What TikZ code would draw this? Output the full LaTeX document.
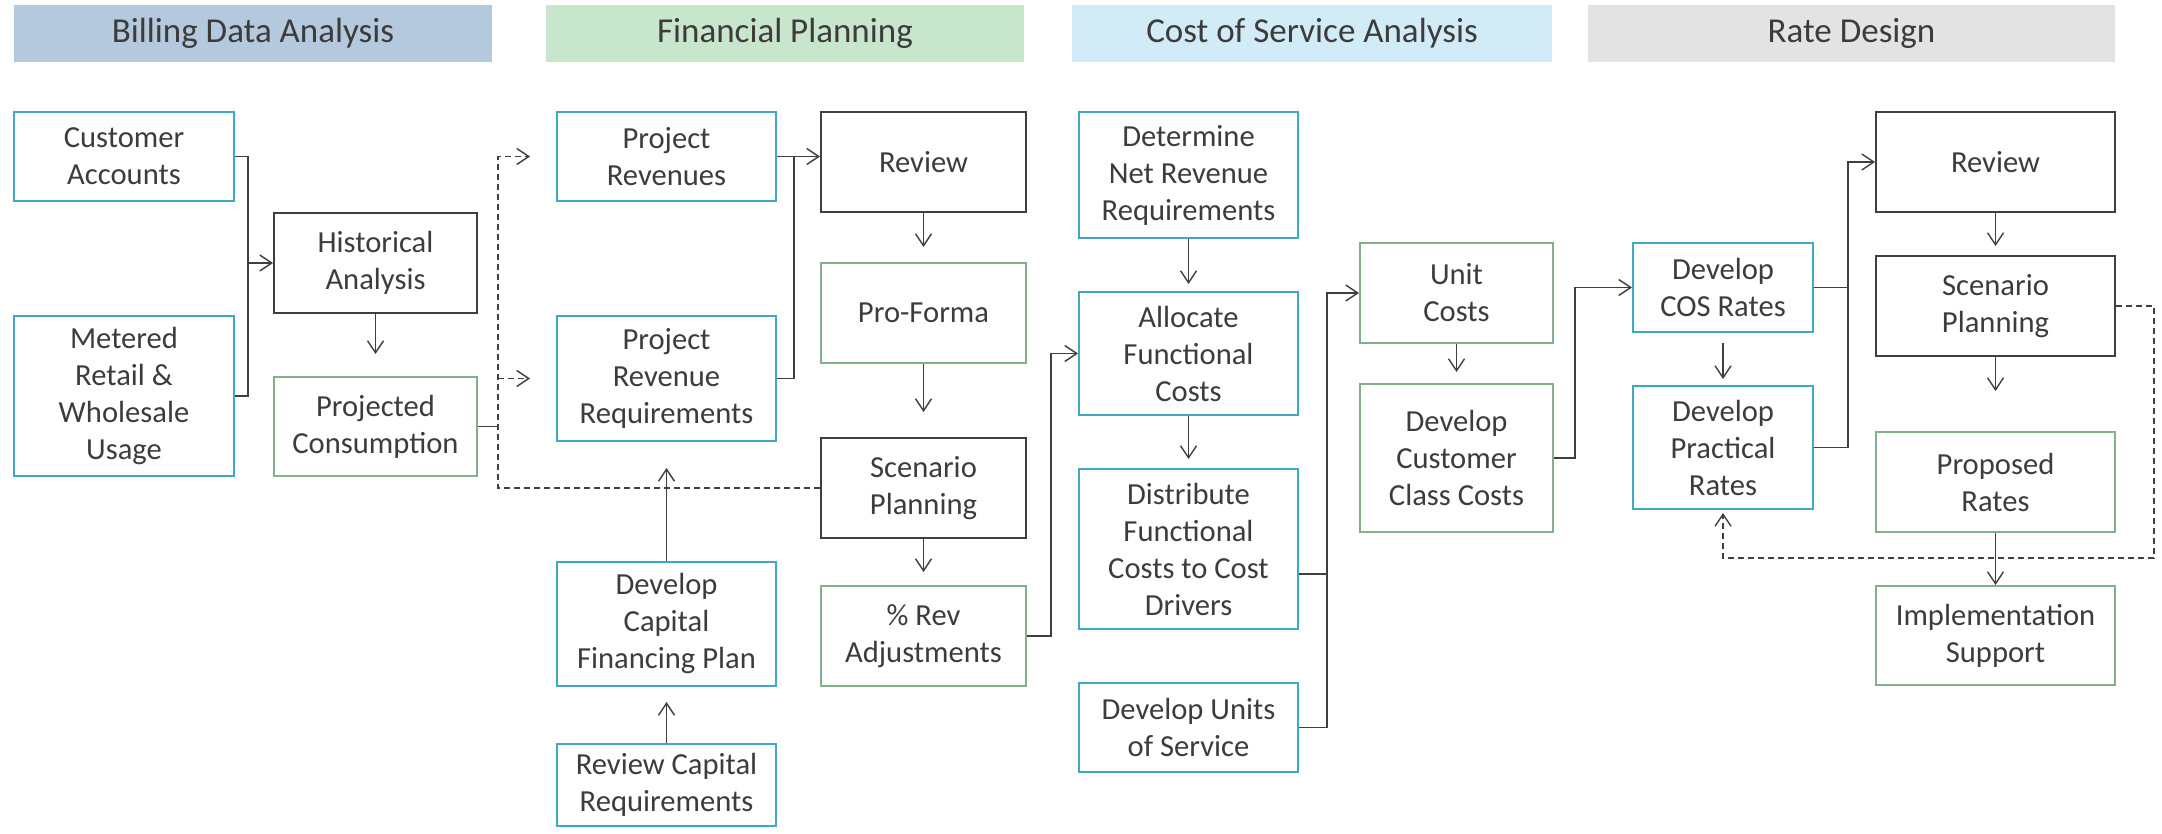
\documentclass[tikz,border=0pt]{standalone}
\usepackage{fontspec}
\setmainfont{Carlito}
\usetikzlibrary{arrows.meta,calc}
\definecolor{cyanb}{HTML}{3FA9C5}
\definecolor{greenb}{HTML}{84AF8D}
\definecolor{blackb}{HTML}{3F3F3F}
\definecolor{hBill}{HTML}{B4C9DD}
\definecolor{hFin}{HTML}{C8E6CB}
\definecolor{hCos}{HTML}{D1EBF7}
\definecolor{hRate}{HTML}{E3E3E3}
\definecolor{txt}{HTML}{3C3C3C}
\tikzset{
  box/.style={draw, line width=1pt, inner sep=0pt, align=center, text=txt,
    font=\fontsize{15.3}{18.5}\selectfont},
  cy/.style={box, draw=cyanb},
  gr/.style={box, draw=greenb},
  bk/.style={box, draw=blackb},
  hdr/.style={draw=none, inner sep=0pt, text=txt, font=\fontsize{17.5}{20}\selectfont},
  conn/.style={line width=0.7pt, draw=blackb},
  arr/.style={conn, -{Straight Barb[length=6pt,width=8pt]}},
  dsh/.style={conn, dash pattern=on 3pt off 2pt}
}
% #1 style, #2 name, (#3,#4) top-left, (#5,#6) bottom-right in pixels, #7 text
\newcommand\mybox[7]{\node[#1, minimum width={(#5-#3)*0.5pt}, minimum height={(#6-#4)*0.5pt}] (#2) at ({(#3+#5)/2},{(#4+#6)/2}) {#7};}
\begin{document}
\begin{tikzpicture}[x=0.5pt,y=-0.5pt]
\useasboundingbox (0,0) rectangle (2162,834);
% headers
\mybox{hdr, fill=hBill}{hb}{14}{5}{492}{62}{Billing Data Analysis}
\mybox{hdr, fill=hFin}{hf}{546}{5}{1024}{62}{Financial Planning}
\mybox{hdr, fill=hCos}{hc}{1072}{5}{1552}{62}{Cost of Service Analysis}
\mybox{hdr, fill=hRate}{hr}{1588}{5}{2115}{62}{Rate Design}
% boxes
\mybox{cy}{ca}{14}{112}{234}{201}{Customer\\Accounts}
\mybox{cy}{mr}{14}{316}{234}{476}{Metered\\Retail \&\\Wholesale\\Usage}
\mybox{bk}{ha}{274}{213}{477}{313}{Historical\\Analysis}
\mybox{gr}{pc}{274}{377}{477}{476}{Projected\\Consumption}
\mybox{cy}{pr}{557}{112}{776}{201}{Project\\Revenues}
\mybox{cy}{prr}{557}{316}{776}{441}{Project\\Revenue\\Requirements}
\mybox{cy}{dcf}{557}{562}{776}{686}{Develop\\Capital\\Financing Plan}
\mybox{cy}{rcr}{557}{744}{776}{826}{Review Capital\\Requirements}
\mybox{bk}{rv1}{821}{112}{1026}{212}{Review}
\mybox{gr}{pf}{821}{263}{1026}{363}{Pro-Forma}
\mybox{bk}{sp1}{821}{438}{1026}{538}{Scenario\\Planning}
\mybox{gr}{ra}{821}{586}{1026}{686}{\% Rev\\Adjustments}
\mybox{cy}{dn}{1079}{112}{1298}{238}{Determine\\Net Revenue\\Requirements}
\mybox{cy}{af}{1079}{292}{1298}{415}{Allocate\\Functional\\Costs}
\mybox{cy}{df}{1079}{469}{1298}{629}{Distribute\\Functional\\Costs to Cost\\Drivers}
\mybox{cy}{du}{1079}{683}{1298}{772}{Develop Units\\of Service}
\mybox{gr}{uc}{1360}{243}{1553}{343}{Unit\\Costs}
\mybox{gr}{dc}{1360}{384}{1553}{532}{Develop\\Customer\\Class Costs}
\mybox{cy}{cos}{1633}{243}{1813}{332}{Develop\\COS Rates}
\mybox{cy}{prc}{1633}{386}{1813}{509}{Develop\\Practical\\Rates}
\mybox{bk}{rv2}{1876}{112}{2115}{212}{Review}
\mybox{bk}{sp2}{1876}{256}{2115}{356}{Scenario\\Planning}
\mybox{gr}{prp}{1876}{432}{2115}{532}{Proposed\\Rates}
\mybox{gr}{is}{1876}{586}{2115}{685}{Implementation\\Support}
% billing
\coordinate (j1) at (248,263);
\draw[conn] (ca.east) -| (j1) |- (mr.east);
\draw[arr] (j1) -- (ha.west);
\draw[arr, shorten >=11pt] (ha.south) -- (pc.north);
% dashed feedback into financial planning
\coordinate (dv) at (498,488);
\draw[dsh, -{Straight Barb[length=6pt,width=8pt]}, shorten >=13pt] (sp1.west) -| (dv |- pr.west) -- (pr.west);
\draw[dsh, -{Straight Barb[length=6pt,width=8pt]}, shorten >=13pt] (dv |- prr.west) -- (prr.west);
\draw[conn] (pc.east) -- (dv |- pc.east);
% financial planning
\draw[arr] (pr.east) -- (pr.east -| rv1.west);
\draw[conn] (prr.east) -| ($(pr.east)+(17,0)$);
\draw[arr, shorten >=7.5pt] (rv1.south) -- (pf.north);
\draw[arr, shorten >=12.5pt] (pf.south) -- (sp1.north);
\draw[arr, shorten >=6.5pt] (sp1.south) -- (ra.north);
\draw[arr, shorten >=13pt] (dcf.north) -- (prr.south);
\draw[arr, shorten >=7.5pt] (rcr.north) -- (dcf.south);
\draw[arr] (ra.east) -- ++(24,0) |- (af.west);
% cost of service
\draw[arr, shorten >=3.5pt] (dn.south) -- (af.north);
\draw[arr, shorten >=4.5pt] (af.south) -- (df.north);
\coordinate (cv) at (1327,574);
\draw[conn] (df.east |- cv) -- (cv);
\draw[arr] (du.east) -| (cv |- uc.west) -- (uc.west);
\draw[arr, shorten >=5.5pt] (uc.south) -- (dc.north);
\draw[arr] (dc.east) -- ++(21,0) |- (cos.west);
% rate design
\draw[arr, shorten <=5pt, shorten >=3pt] (cos.south) -- (prc.north);
\coordinate (rj) at ($(cos.east)+(34,0)$);
\draw[conn] (cos.east) -- (rj);
\draw[arr] (prc.east) -| (rj |- rv2.west) -- (rv2.west);
\draw[arr, shorten >=4.5pt] (rv2.south) -- (sp2.north);
\draw[arr, shorten >=20pt] (sp2.south) -- (prp.north);
\draw[arr] (prp.south) -- (is.north);
\draw[dsh, -{Straight Barb[length=6pt,width=8pt]}, shorten >=1.5pt] (sp2.east) -- ++(38,0) |- ($(prc.south)+(0,48)$) -- (prc.south);
\end{tikzpicture}
\end{document}
